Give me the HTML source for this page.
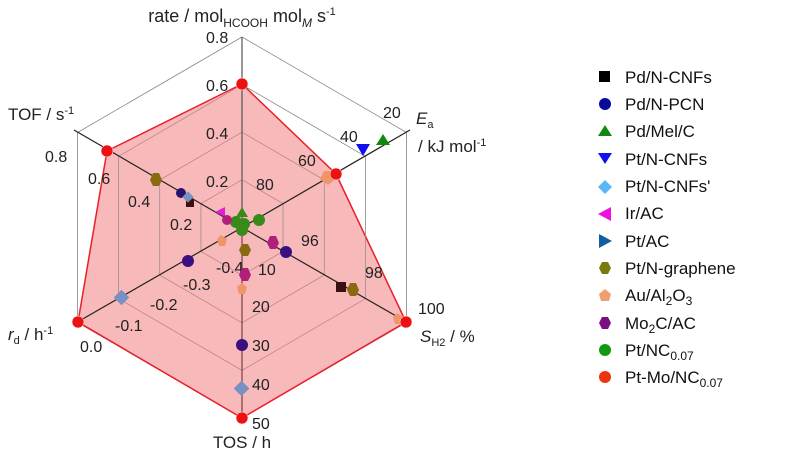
<!DOCTYPE html>
<html><head><meta charset="utf-8"><style>
body{margin:0;background:#fff}
svg{display:block;font-family:"Liberation Sans",Arial,sans-serif}
</style></head><body>
<svg width="799" height="457" viewBox="0 0 799 457" xmlns="http://www.w3.org/2000/svg">
<g fill="none" stroke="#888" stroke-width="0.8">
<polygon points="242,37 406.5,132.5 406.5,322.5 242,418 77.5,322.5 77.5,132.5"/>
<polygon points="242,84.6 365.4,156.3 365.4,298.7 242,370.4 118.6,298.7 118.6,156.3"/>
<polygon points="242,132.2 324.3,180 324.3,275 242,322.8 159.7,275 159.7,180"/>
<polygon points="242,179.8 283.1,203.6 283.1,251.4 242,275.2 200.9,251.4 200.9,203.6"/>
</g>
<polygon points="242,84 336,174 406,322 242,418 78,322 107,151" fill="#f08080" fill-opacity="0.55" stroke="#e8202a" stroke-width="1.5"/>
<g stroke="#999" stroke-width="0.6">
<line x1="406.5" y1="132.5" x2="406.5" y2="322.5"/><line x1="77.5" y1="132.5" x2="77.5" y2="322.5"/>
<line x1="365.4" y1="156.3" x2="365.4" y2="298.7"/><line x1="118.6" y1="156.3" x2="118.6" y2="298.7"/>
<line x1="324.3" y1="180" x2="324.3" y2="275"/><line x1="159.7" y1="180" x2="159.7" y2="275"/>
<line x1="283.1" y1="203.6" x2="283.1" y2="251.4"/><line x1="200.9" y1="203.6" x2="200.9" y2="251.4"/>
</g>
<g stroke="#222" stroke-width="1.2">
<line x1="242" y1="227.5" x2="242" y2="37" stroke="#555"/>
<line x1="242" y1="227.5" x2="410" y2="130"/>
<line x1="242" y1="227.5" x2="410" y2="324"/>
<line x1="242" y1="227.5" x2="242" y2="418" stroke="#7a4040"/>
<line x1="242" y1="227.5" x2="74" y2="324"/>
<line x1="242" y1="227.5" x2="74" y2="130"/>
</g>
<g font-size="16" fill="#222">
<text x="242" y="22" text-anchor="middle" font-size="18">rate / mol<tspan font-size="12" dy="5">HCOOH</tspan><tspan dy="-5"> mol</tspan><tspan font-size="12" dy="5" font-style="italic">M</tspan><tspan dy="-5"> s</tspan><tspan font-size="11" dy="-7">-1</tspan></text>
<text x="206" y="43">0.8</text><text x="206" y="91">0.6</text><text x="206" y="139">0.4</text><text x="206" y="187">0.2</text>
<text x="8" y="120" font-size="17">TOF / s<tspan font-size="11" dy="-6">-1</tspan></text>
<text x="45" y="162">0.8</text><text x="88" y="184">0.6</text><text x="128" y="207">0.4</text><text x="170" y="230">0.2</text>
<text x="383" y="118">20</text><text x="340" y="142">40</text><text x="298" y="166">60</text><text x="256" y="190">80</text>
<text x="416" y="124" font-size="17" font-style="italic">E<tspan font-size="11" dy="4" font-style="normal">a</tspan></text>
<text x="418" y="152" font-size="17">/ kJ mol<tspan font-size="11" dy="-6">-1</tspan></text>
<text x="301" y="246">96</text><text x="365" y="278">98</text><text x="418" y="314">100</text>
<text x="420" y="342" font-size="17" font-style="italic">S<tspan font-size="11" dy="4" font-style="normal">H2</tspan><tspan dy="-4" font-style="normal"> / %</tspan></text>
<text x="258" y="275">10</text><text x="252" y="312">20</text><text x="252" y="351">30</text><text x="252" y="390">40</text><text x="252" y="429">50</text>
<text x="242" y="448" text-anchor="middle" font-size="17">TOS / h</text>
<text x="216" y="273">-0.4</text><text x="183" y="290">-0.3</text><text x="150" y="310">-0.2</text><text x="115" y="331">-0.1</text><text x="80" y="352">0.0</text>
<text x="8" y="340" font-size="17" font-style="italic">r<tspan font-size="11" dy="4" font-style="normal">d</tspan><tspan dy="-4" font-style="normal"> / h</tspan><tspan font-size="11" dy="-6" font-style="normal">-1</tspan></text>
</g>
<g>
<polygon points="356,144 370,144 363,156" fill="#1010ee"/>
<polygon points="383,134 390,145 376,145" fill="#118811"/>
<polygon points="324,171 333,171 336,179 328,185 320,179" fill="#f0956a"/>
<circle cx="181" cy="193" r="5" fill="#2a1070"/>
<rect x="186" y="199" width="8" height="8" fill="#3a1010"/>
<rect x="184" y="193" width="8" height="8" fill="#7a90c0" transform="rotate(45 188 197)"/>
<polygon points="153,173 159,173 162,180 159,186 153,186 150,180" fill="#8a6a10"/>
<circle cx="259" cy="220" r="6" fill="#3a8a1a"/>
<circle cx="236" cy="222" r="6" fill="#3a8a1a"/><circle cx="244" cy="224" r="6" fill="#3a8a1a"/>
<circle cx="242" cy="230" r="6" fill="#3a8a1a"/>
<polygon points="242,207 248,217 236,217" fill="#3a8a1a"/>
<polygon points="215,212 225,207 225,217" fill="#e020d0"/>
<circle cx="227" cy="220" r="5" fill="#b0207a"/>
<polygon points="242,244 248,244 251,250 248,256 242,256 239,250" fill="#8a6a10"/>
<polygon points="270,236 276,236 279,243 276,249 270,249 267,243" fill="#b0207a"/>
<polygon points="242,268 248,268 251,275 248,281 242,281 239,275" fill="#b0207a"/>
<polygon points="242,283 247,287 245,294 239,294 237,287" fill="#f0956a"/>
<polygon points="221,235 227,239 225,246 219,246 217,239" fill="#f0956a"/>
<circle cx="286" cy="252" r="6" fill="#3a1080"/>
<circle cx="188" cy="261" r="6" fill="#3a1080"/>
<circle cx="242" cy="345" r="6" fill="#3a1080"/>
<rect x="116" y="292" width="11" height="11" fill="#7a90c0" transform="rotate(45 121.5 297.5)"/>
<rect x="236" y="383" width="11" height="11" fill="#7a90c0" transform="rotate(45 241.5 388.5)"/>
<rect x="336" y="282" width="10" height="10" fill="#3a1010"/>
<polygon points="350,283 356,283 359,290 356,296 350,296 347,290" fill="#8a6a10"/>
<polygon points="397,313 403,317 401,324 395,324 393,317" fill="#f0956a"/>
</g>
<g fill="#ee1111" stroke="#fff" stroke-width="0.5">
<circle cx="242" cy="84" r="6"/><circle cx="336" cy="174" r="6"/><circle cx="406" cy="322" r="6"/>
<circle cx="242" cy="418" r="6"/><circle cx="78" cy="322" r="6"/><circle cx="107" cy="151" r="6"/>
</g>
<g font-size="17" fill="#111">
<rect x="599" y="71" width="11" height="11" fill="#000"/><text x="625" y="83">Pd/N-CNFs</text>
<circle cx="605" cy="104" r="6" fill="#0a0a9a"/><text x="625" y="110">Pd/N-PCN</text>
<polygon points="605,125 612,136 598,136" fill="#118811"/><text x="625" y="137">Pd/Mel/C</text>
<polygon points="598,153 612,153 605,164" fill="#1010ee"/><text x="625" y="165">Pt/N-CNFs</text>
<polygon points="605,180 612,187 605,194 598,187" fill="#5ab8f5"/><text x="625" y="192">Pt/N-CNFs'</text>
<polygon points="598,214 611,207 611,221" fill="#ee11dd"/><text x="625" y="219">Ir/AC</text>
<polygon points="599,234 612,241 599,248" fill="#1060a0"/><text x="625" y="247">Pt/AC</text>
<polygon points="602,262 608,262 611,268 608,274 602,274 599,268" fill="#7a7a10"/><text x="625" y="274">Pt/N-graphene</text>
<polygon points="605,289 611,294 609,301 601,301 599,294" fill="#f0a070"/><text x="625" y="301">Au/Al<tspan font-size="12" dy="4">2</tspan><tspan dy="-4">O</tspan><tspan font-size="12" dy="4">3</tspan></text>
<polygon points="602,317 608,317 611,323 608,329 602,329 599,323" fill="#7a1080"/><text x="625" y="329">Mo<tspan font-size="12" dy="4">2</tspan><tspan dy="-4">C/AC</tspan></text>
<circle cx="605" cy="350" r="6" fill="#119911"/><text x="625" y="356">Pt/NC<tspan font-size="12" dy="4">0.07</tspan></text>
<circle cx="605" cy="377" r="6" fill="#ee3311"/><text x="625" y="383">Pt-Mo/NC<tspan font-size="12" dy="4">0.07</tspan></text>
</g>
</svg>
</body></html>
